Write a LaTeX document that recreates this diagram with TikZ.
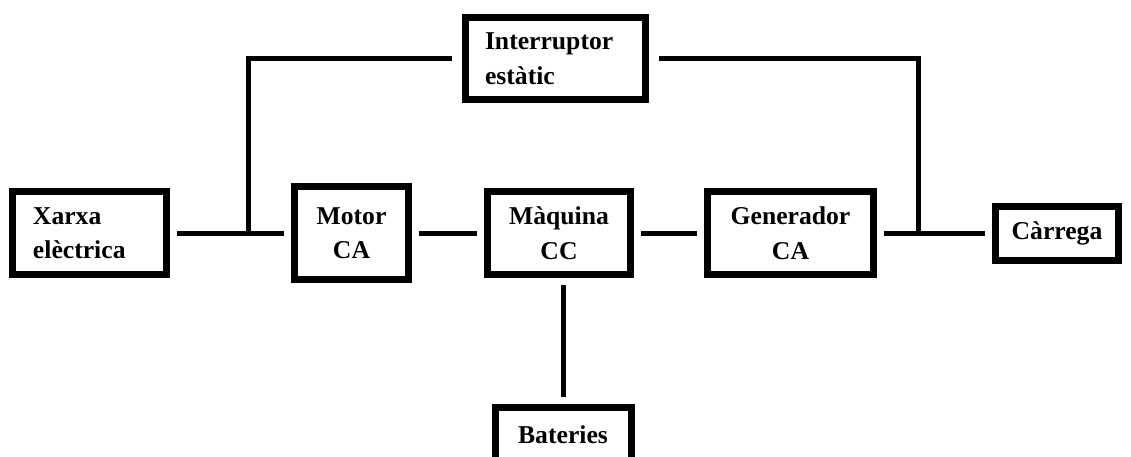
\documentclass[tikz,border=0pt]{standalone}
\usepackage{fontspec}
\setmainfont{Liberation Serif}
\usetikzlibrary{positioning}

\begin{document}
\begin{tikzpicture}[x=0.2mm,y=-0.2mm,
bloc/.style={draw,line width=1.4mm,fill=white,align=center,inner sep=0pt,font=\bfseries\fontsize{14.6}{19.6}\selectfont},
fil/.style={line width=1mm,shorten <=1.4mm,shorten >=1.4mm}
]
\useasboundingbox (0,0) rectangle (1131,456);

\node[bloc,minimum width=30.8mm,minimum height=16.6mm,text width=22.6mm,align=left] (xarxa) at (89.5,233) {Xarxa\\elèctrica};
\node[bloc,minimum width=22.8mm,minimum height=18.6mm,right=24.2mm of xarxa] (motor) {Motor\\CA};
\node[bloc,minimum width=28.6mm,minimum height=16.6mm,right=14.4mm of motor] (maquina) {Màquina\\CC};
\node[bloc,minimum width=33.2mm,minimum height=16.6mm,right=14mm of maquina] (generador) {Generador\\CA};
\node[bloc,minimum width=24.6mm,minimum height=10.8mm,right=23mm of generador] (carrega) {Càrrega};
\node[bloc,minimum width=36mm,minimum height=16.4mm,text width=28.2mm,align=left,above=17mm of maquina,xshift=-0.7mm] (interruptor) {Interruptor\\estàtic};
\node[bloc,minimum width=27.2mm,minimum height=11mm,below=25.2mm of maquina,xshift=0.8mm] (bateries) {Bateries};

\coordinate[right=15.6mm of xarxa] (tapL);
\coordinate[right=8.2mm of generador] (tapR);

\draw[fil] (xarxa) -- (motor);
\draw[fil] (motor) -- (maquina);
\draw[fil] (maquina) -- (generador);
\draw[fil] (generador) -- (carrega);
\draw[fil] (maquina.south -| bateries) -- (bateries);
\draw[fil,shorten <=0pt,shorten >=2mm] (tapL) |- (interruptor);
\draw[fil,shorten <=2mm,shorten >=0pt] (interruptor) -| (tapR);
\end{tikzpicture}
\end{document}
